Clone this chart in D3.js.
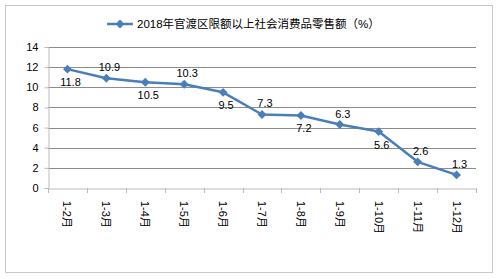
<!DOCTYPE html>
<html>
<head>
<meta charset="utf-8">
<script src="https://cdn.jsdelivr.net/npm/d3@7"></script>
<style>
  body { margin: 0; background: #fff; }
  svg { display: block; font-family: "Liberation Sans", Arial, "Noto Sans CJK SC", sans-serif; }
</style>
</head>
<body>
<div id="chart"></div>
<script>
// chart data
const categories = ['1-2月', '1-3月', '1-4月', '1-5月', '1-6月', '1-7月', '1-8月', '1-9月', '1-10月', '1-11月', '1-12月'];
const values = [11.8, 10.9, 10.5, 10.3, 9.5, 7.3, 7.2, 6.3, 5.6, 2.6, 1.3];
const yTicks = [0, 2, 4, 6, 8, 10, 12, 14];
const labelSide = ['below', 'above', 'below', 'above', 'below', 'above', 'below', 'above', 'below', 'above', 'above'];
const seriesName = '2018年官渡区限额以上社会消费品零售额（%）';

const width = 500;
const height = 279;
const margin = { top: 47, right: 24, bottom: 91, left: 48 };
const blue = '#4a7ebb';

const svg = d3.select('#chart')
  .append('svg')
  .attr('width', width)
  .attr('height', height);

// outer chart border
svg.append('rect')
  .attr('x', 5.5)
  .attr('y', 5.5)
  .attr('width', 487)
  .attr('height', 267)
  .attr('fill', '#fff')
  .attr('stroke', '#c8c8c8');

const x = d3.scaleBand()
  .domain(categories)
  .range([margin.left, width - margin.right]);

const y = d3.scaleLinear()
  .domain([0, 14])
  .range([height - margin.bottom, margin.top]);

// horizontal gridlines
svg.append('g')
  .selectAll('line')
  .data(yTicks.filter((d) => d > 0))
  .enter()
  .append('line')
  .attr('x1', margin.left)
  .attr('x2', width - margin.right)
  .attr('y1', (d) => Math.round(y(d)) + 0.5)
  .attr('y2', (d) => Math.round(y(d)) + 0.5)
  .attr('stroke', '#8c8c8c')
  .attr('stroke-width', 1);

// y axis
const yAxis = svg.append('g')
  .attr('transform', `translate(${margin.left + 0.5},0)`)
  .call(d3.axisLeft(y).tickValues(yTicks).tickSize(4).tickPadding(6));
yAxis.select('.domain').attr('stroke', '#bcbcbc');
yAxis.selectAll('.tick line').attr('stroke', '#bcbcbc');
yAxis.selectAll('.tick text')
  .attr('fill', '#000')
  .style('font-size', '11px');

// x axis
const xAxis = svg.append('g')
  .attr('transform', `translate(0,${Math.round(y(0)) + 0.5})`)
  .call(d3.axisBottom(x).tickSize(0).tickFormat(''));
xAxis.select('.domain').attr('stroke', '#bcbcbc');

// category boundary ticks
svg.append('g')
  .selectAll('line')
  .data(categories.concat(['end']))
  .enter()
  .append('line')
  .attr('x1', (d, i) => Math.round(margin.left + i * x.step()) + 0.5)
  .attr('x2', (d, i) => Math.round(margin.left + i * x.step()) + 0.5)
  .attr('y1', y(0))
  .attr('y2', y(0) + 5)
  .attr('stroke', '#bcbcbc');

// rotated category labels
svg.append('g')
  .selectAll('text')
  .data(categories)
  .enter()
  .append('text')
  .attr('transform', (d) => `translate(${x(d) + x.bandwidth() / 2 - 4},${y(0) + 13}) rotate(90)`)
  .attr('text-anchor', 'start')
  .style('font-size', '11px')
  .attr('fill', '#000')
  .text((d) => d);

// series line
const line = d3.line()
  .x((d, i) => x(categories[i]) + x.bandwidth() / 2)
  .y((d) => y(d));

svg.append('path')
  .datum(values)
  .attr('d', line)
  .attr('fill', 'none')
  .attr('stroke', blue)
  .attr('stroke-width', 2.5)
  .attr('stroke-linejoin', 'round');

const diamond = d3.symbol().type(d3.symbolDiamond2).size(50);

svg.append('g')
  .selectAll('path')
  .data(values)
  .enter()
  .append('path')
  .attr('d', diamond)
  .attr('transform', (d, i) => `translate(${x(categories[i]) + x.bandwidth() / 2},${y(d)})`)
  .attr('fill', blue);

// data labels
svg.append('g')
  .selectAll('text')
  .data(values)
  .enter()
  .append('text')
  .attr('x', (d, i) => x(categories[i]) + x.bandwidth() / 2 + 3)
  .attr('y', (d, i) => y(d) + (labelSide[i] === 'above' ? -7 : 17))
  .attr('text-anchor', 'middle')
  .style('font-size', '11px')
  .attr('fill', '#000')
  .text((d) => d.toFixed(1));

// legend / title
const legend = svg.append('g').attr('transform', 'translate(107,24)');
legend.append('line')
  .attr('x1', 0)
  .attr('x2', 26)
  .attr('stroke', blue)
  .attr('stroke-width', 2.5);
legend.append('path')
  .attr('d', diamond)
  .attr('transform', 'translate(13,0)')
  .attr('fill', blue);
legend.append('text')
  .attr('x', 30)
  .attr('y', 4)
  .style('font-size', '11.5px')
  .attr('fill', '#000')
  .text(seriesName);
</script>
</body>
</html>
